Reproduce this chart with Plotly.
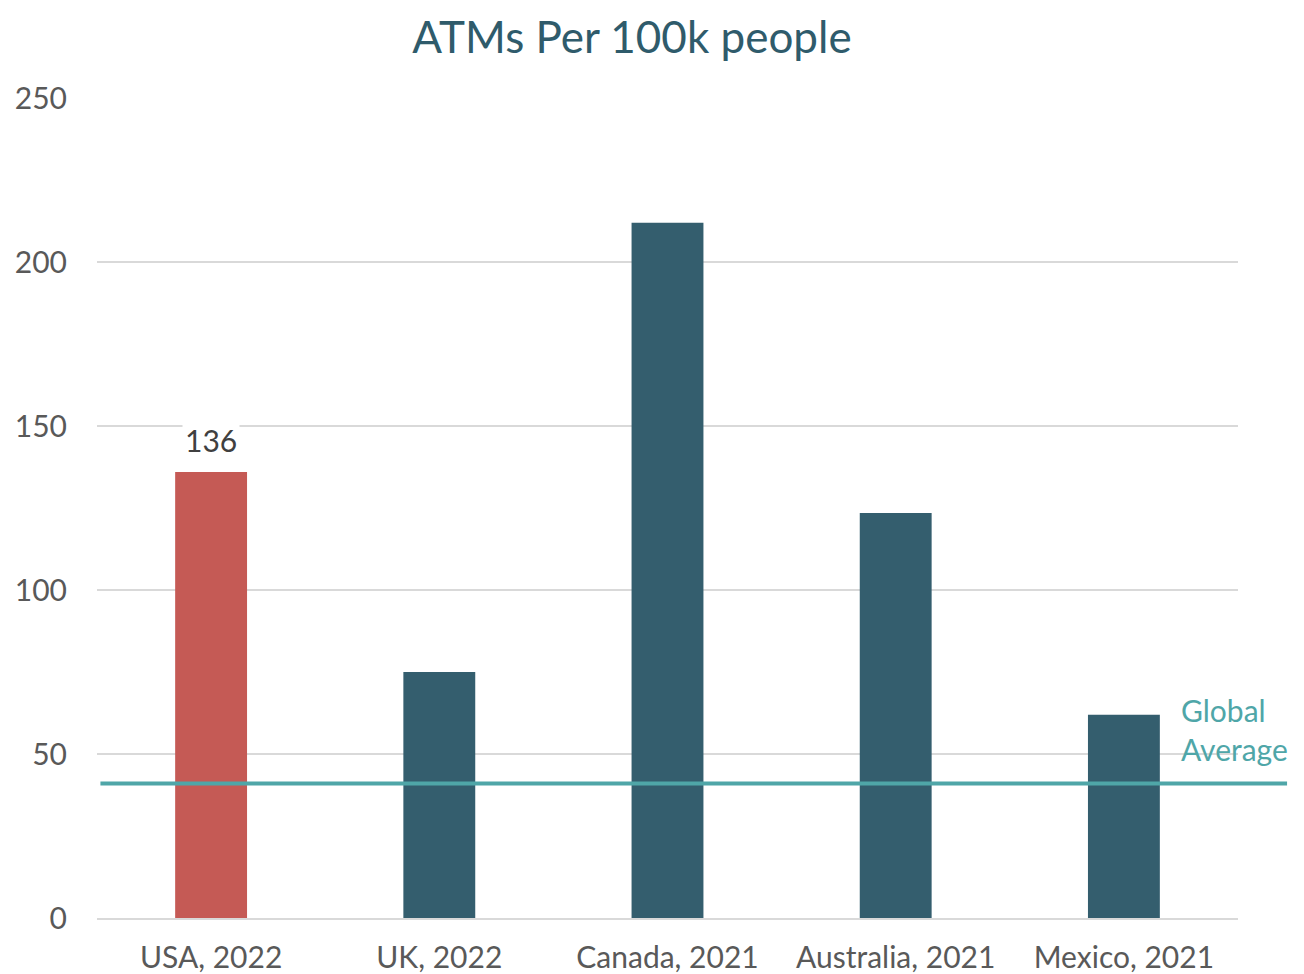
import plotly.graph_objects as go

categories = ["USA, 2022", "UK, 2022", "Canada, 2021", "Australia, 2021", "Mexico, 2021"]
values = [136, 75, 212, 123.5, 62]
bar_colors = ["#C55A55", "#345E6E", "#345E6E", "#345E6E", "#345E6E"]
global_average = 41
y_ticks = [0, 50, 100, 150, 200, 250]

FONT = "Lato, 'Open Sans', sans-serif"

fig = go.Figure()
fig.add_trace(go.Bar(
    x=categories, y=values, marker=dict(color=bar_colors, line=dict(width=0)),
    hoverinfo="x+y",
))

fig.add_shape(type="line", xref="paper", yref="y", x0=0.003, x1=1.043,
              y0=global_average, y1=global_average,
              line=dict(color="#4FA6A8", width=4), layer="above")

fig.add_annotation(x=categories[0], y=values[0], text="136", showarrow=False,
                   yshift=32, bgcolor="white", borderpad=2,
                   font=dict(family=FONT, size=30, color="#404040"))

fig.add_annotation(xref="paper", yref="y", x=0.948, y=57.5, text="Global<br>Average",
                   showarrow=False, xanchor="left", yanchor="middle", align="left",
                   font=dict(family=FONT, size=30, color="#4FA6A8"))

fig.update_layout(
    width=1304, height=974,
    paper_bgcolor="white", plot_bgcolor="white",
    margin=dict(l=89, r=74, t=90, b=64),
    title=dict(text="ATMs Per 100k people", x=0.4785, xanchor="center",
               yref="container", y=0.97, yanchor="middle",
               font=dict(family=FONT, size=44, color="#2F5B6B")),
    bargap=0.685,
    showlegend=False,
    xaxis=dict(showgrid=False, showline=True, linecolor="#D9D9D9", linewidth=2,
               ticks="", tickfont=dict(family=FONT, size=30, color="#595959"),
               ticklabelstandoff=12, fixedrange=True, automargin=False),
    yaxis=dict(range=[0, 250], tickvals=y_ticks, showgrid=True, gridcolor="#D9D9D9",
               gridwidth=1.5, zeroline=False, showline=False, automargin=False,
               tickfont=dict(family=FONT, size=30, color="#595959"), ticks="",
               ticklabelstandoff=29),
)

fig.write_html("out.html")
